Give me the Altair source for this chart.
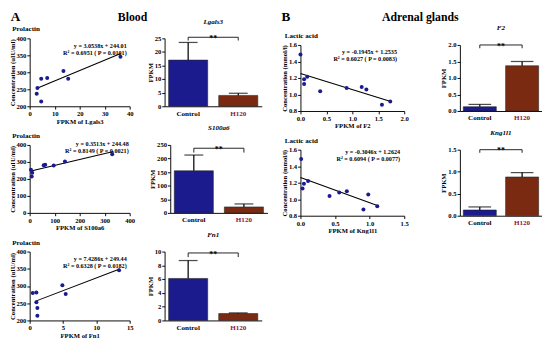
import altair as alt
import pandas as pd

FONT = "Liberation Serif"
NAVY = "#1b1b8e"
BROWN = "#7b2a12"
RED = "#a3100f"
LABEL_RED = "#8b1538"
GROUPS = ["Control", "H120"]

# ---------------- A: Blood (scatter: FPKM vs Prolactin) ----------------
a1_x = [2.8, 3.1, 4.6, 4.6, 7.0, 13.5, 15.4, 36.3]
a1_y = [237, 254, 281, 214, 283, 304, 281, 346]
a2_x = [5, 10, 8, 56, 62, 96, 141, 330]
a2_y = [254, 237, 214, 281, 283, 279, 302, 346]
a3_x = [0.46, 1.0, 1.0, 1.15, 1.15, 4.9, 5.4, 13.4]
a3_y = [280, 281, 253, 236, 214, 302, 277, 346]

# fit lines (slope, intercept, x-extent)
a1_fit = (3.0538, 244.01, [2.7, 36.4])
a2_fit = (0.3513, 244.48, [1, 335])
a3_fit = (7.4286, 249.44, [0.9, 13.5])
a1_eq = ["y = 3.0538x + 244.01", "R² = 0.6951 ( P = 0.0101)"]
a2_eq = ["y = 0.3513x + 244.48", "R² = 0.8149 ( P = 0.0021)"]
a3_eq = ["y = 7.4286x + 249.44", "R² = 0.6328 ( P = 0.0182)"]

# ---------------- B: Adrenal glands (scatter: FPKM vs Lactic acid) -------
b1_x = [0.0, 0.07, 0.07, 0.13, 0.38, 0.89, 1.18, 1.27, 1.57, 1.73]
b1_y = [1.485, 1.185, 1.127, 1.215, 1.04, 1.08, 1.09, 1.06, 0.877, 0.915]
b2_x = [0.01, 0.03, 0.05, 0.11, 0.42, 0.56, 0.67, 0.91, 0.98, 1.11]
b2_y = [1.487, 1.13, 1.186, 1.22, 1.04, 1.08, 1.096, 0.877, 1.057, 0.916]
b1_fit = (-0.1945, 1.2535, [0.0, 1.74])
b2_fit = (-0.3046, 1.2624, [0.0, 1.13])
b1_eq = ["y = -0.1945x + 1.2535", "R² = 0.6027 ( P = 0.0083)"]
b2_eq = ["y = -0.3046x + 1.2624", "R² = 0.6094 ( P = 0.0077)"]

# ---------------- bar panels: mean and upper error value ---------------
lgals3_mean = [17.0, 4.0]
lgals3_upper = [23.5, 4.8]
s100a6_mean = [155, 22]
s100a6_upper = [213, 33]
fn1_mean = [6.1, 1.0]
fn1_upper = [8.7, 1.1]
f2_mean = [0.13, 1.37]
f2_upper = [0.2, 1.5]
kng_mean = [0.13, 0.88]
kng_upper = [0.2, 0.98]


def qaxis(values, title, fmt):
    return alt.Axis(values=values, tickCount=len(values), title=title, format=fmt,
                    labelOverlap=False, labelFlush=False)


def scatter(xs, ys, fit, eq, xdom, xticks, ydom, yticks, xtitle, ytitle, title, w, h,
            eq_x=0.97, eq_y=0.07, fmt="d"):
    df = pd.DataFrame({"x": xs, "y": ys})
    xsc = alt.Scale(domain=xdom, nice=False, zero=False)
    ysc = alt.Scale(domain=ydom, nice=False, zero=False)
    xenc = alt.X("x:Q", scale=xsc, axis=qaxis(xticks, xtitle, fmt))
    yenc = alt.Y("y:Q", scale=ysc, axis=qaxis(yticks, ytitle, fmt))
    pts = alt.Chart(df).mark_circle(size=18, color=NAVY, opacity=1).encode(x=xenc, y=yenc)
    slope, icpt, lx = fit
    ldf = pd.DataFrame({"x": lx, "y": [slope * v + icpt for v in lx]})
    line = alt.Chart(ldf).mark_line(color="black", strokeWidth=1.1).encode(x=xenc, y=yenc)
    yr = ydom[1] - ydom[0]
    tdf = pd.DataFrame({"x": [xdom[0] + (xdom[1] - xdom[0]) * eq_x],
                        "y": [ydom[1] - yr * eq_y],
                        "t": ["\n".join(eq)]})
    txt = alt.Chart(tdf).mark_text(align="right", baseline="top", lineBreak="\n",
                                   fontSize=6.5, font=FONT, fontWeight="bold",
                                   lineHeight=7.5).encode(x=xenc, y=yenc, text="t:N")
    return alt.layer(line, pts, txt).properties(
        width=w, height=h,
        title=alt.TitleParams(["", title], anchor="start", dx=4, fontSize=7.5, font=FONT,
                              fontWeight="bold", lineHeight=8, offset=2))


def bar(gene, means, uppers, h120_color, ydom, yticks, br_top, br_bot, w, h, cap, fmt="d"):
    df = pd.DataFrame({"g": GROUPS, "m": means, "u": uppers})
    xenc = alt.X("g:N", sort=GROUPS,
                 scale=alt.Scale(paddingInner=0.22, paddingOuter=0.08),
                 axis=alt.Axis(title=" ", labelAngle=0, ticks=False, labelFontSize=7.5,
                               labelPadding=3.5, titlePadding=1,
                               labelColor={"condition": {"test": "datum.value == 'H120'",
                                                         "value": LABEL_RED},
                                           "value": "black"}))
    ysc = alt.Scale(domain=ydom, nice=False)
    yenc = alt.Y("m:Q", scale=ysc, axis=qaxis(yticks, "FPKM", fmt))
    bars = alt.Chart(df).mark_bar(stroke="#222222", strokeWidth=0.6).encode(
        x=xenc, y=yenc,
        color=alt.Color("g:N", scale=alt.Scale(domain=GROUPS, range=[NAVY, h120_color]),
                        legend=None),
    )
    err = alt.Chart(df).mark_rule(strokeWidth=1.3, color="black").encode(
        x="g:N", y="m:Q", y2="u:Q")
    caps = alt.Chart(df).mark_tick(thickness=1.3, size=cap, color="black").encode(
        x="g:N", y="u:Q")
    bdf = pd.DataFrame({"g": ["Control", "Control", "H120", "H120"],
                        "y": [br_bot, br_top, br_top, br_bot],
                        "o": [0, 1, 2, 3]})
    bracket = alt.Chart(bdf).mark_line(strokeWidth=0.9, color="black").encode(
        x="g:N", y="y:Q", order="o:Q")
    sdf = pd.DataFrame({"y": [br_top], "t": ["**"]})
    stars = alt.Chart(sdf).mark_text(font=FONT, fontWeight="bold", fontSize=8.5,
                                     baseline="middle", dy=1).encode(
        x=alt.value(w / 2), y="y:Q", text="t:N")
    return alt.layer(bars, err, caps, bracket, stars).properties(
        width=w, height=h,
        title=alt.TitleParams(gene, anchor="middle", fontSize=7.5,
                              font=FONT, fontStyle="italic", fontWeight="bold", offset=10))


def header(letter, label, label_x, w, h):
    l1 = alt.Chart(pd.DataFrame({"t": [letter]})).mark_text(
        font=FONT, fontWeight="bold", fontSize=14, align="left", baseline="top"
    ).encode(text="t:N", x=alt.value(-20), y=alt.value(0))
    l2 = alt.Chart(pd.DataFrame({"t": [label]})).mark_text(
        font=FONT, fontWeight="bold", fontSize=12.5, align="center", baseline="top"
    ).encode(text="t:N", x=alt.value(label_x), y=alt.value(1))
    return alt.layer(l1, l2).properties(width=w, height=h)


YT_A = "Concentration (uIU/ml)"
YT_B = "Concentration (mmol/l)"

sa1 = scatter(a1_x, a1_y, a1_fit, a1_eq, [0, 40], [0, 10, 20, 30, 40], [200, 400],
              [200, 250, 300, 350, 400], "FPKM of Lgals3", YT_A, "Prolactin", 106, 72)
sa2 = scatter(a2_x, a2_y, a2_fit, a2_eq, [0, 400], [0, 100, 200, 300, 400], [0, 400],
              [0, 100, 200, 300, 400], "FPKM of S100a6", YT_A, "Prolactin", 106, 72,
              eq_x=0.99, eq_y=-0.05)
sa3 = scatter(a3_x, a3_y, a3_fit, a3_eq, [0, 15], [0, 5, 10, 15], [200, 400],
              [200, 250, 300, 350, 400], "FPKM of Fn1", YT_A, "Prolactin", 106, 73)
ba1 = bar("Lgals3", lgals3_mean, lgals3_upper, BROWN, [0, 25], [0, 5, 10, 15, 20, 25],
          25.4, 24.2, 103, 72, 20)
ba2 = bar("S100a6", s100a6_mean, s100a6_upper, BROWN, [0, 250], [0, 50, 100, 150, 200, 250],
          238, 222, 103, 72, 20)
ba3 = bar("Fn1", fn1_mean, fn1_upper, BROWN, [0, 10], [0, 2, 4, 6, 8, 10],
          9.8, 9.2, 103, 73, 20)

sb1 = scatter(b1_x, b1_y, b1_fit, b1_eq, [0, 2.0], [0, 0.5, 1.0, 1.5, 2.0], [0.8, 1.6],
              [0.8, 1.0, 1.2, 1.4, 1.6], "FPKM of F2", YT_B, "Lactic acid", 110, 70,
              eq_x=0.93, eq_y=0.06, fmt=".1f")
sb2 = scatter(b2_x, b2_y, b2_fit, b2_eq, [0, 1.5], [0, 0.5, 1.0, 1.5], [0.8, 1.6],
              [0.8, 1.0, 1.2, 1.4, 1.6], "FPKM of Kng1l1", YT_B, "Lactic acid", 110, 70,
              eq_x=0.96, eq_y=0.0, fmt=".1f")
bb1 = bar("F2", f2_mean, f2_upper, RED, [0, 2.0], [0, 0.5, 1.0, 1.5, 2.0],
          2.0, 1.9, 87, 70, 24, ".1f")
bb2 = bar("Kng1l1", kng_mean, kng_upper, RED, [0, 1.5], [0, 0.5, 1.0, 1.5],
          1.5, 1.43, 87, 70, 24, ".1f")

block_a = alt.vconcat(
    header("A", "Blood", 109, 240, 8),
    alt.vconcat(
        alt.hconcat(sa1, ba1, spacing=14),
        alt.hconcat(sa2, ba2, spacing=14),
        alt.hconcat(sa3, ba3, spacing=14),
        spacing=0,
    ),
    spacing=-7,
)
block_b = alt.vconcat(
    header("B", "Adrenal glands", 127, 240, 20),
    alt.vconcat(
        alt.hconcat(sb1, bb1, spacing=33),
        alt.hconcat(sb2, bb2, spacing=33),
        spacing=0,
    ),
    spacing=-6,
)

chart = alt.hconcat(block_a, block_b, spacing=14).properties(
    padding={"left": 0, "top": -7, "right": 0, "bottom": 0}
).configure_view(stroke=None).configure_axis(
    labelFont=FONT, labelFontWeight="bold", labelFontSize=7, labelColor="black",
    titleFont=FONT, titleFontWeight="bold", titleFontSize=7, titleColor="black",
    domainColor="black", tickColor="black", tickSize=3, labelPadding=1, titlePadding=1,
    grid=False, domainWidth=1,
)

chart.save("out.html", embed_options={"renderer": "svg", "actions": False})
